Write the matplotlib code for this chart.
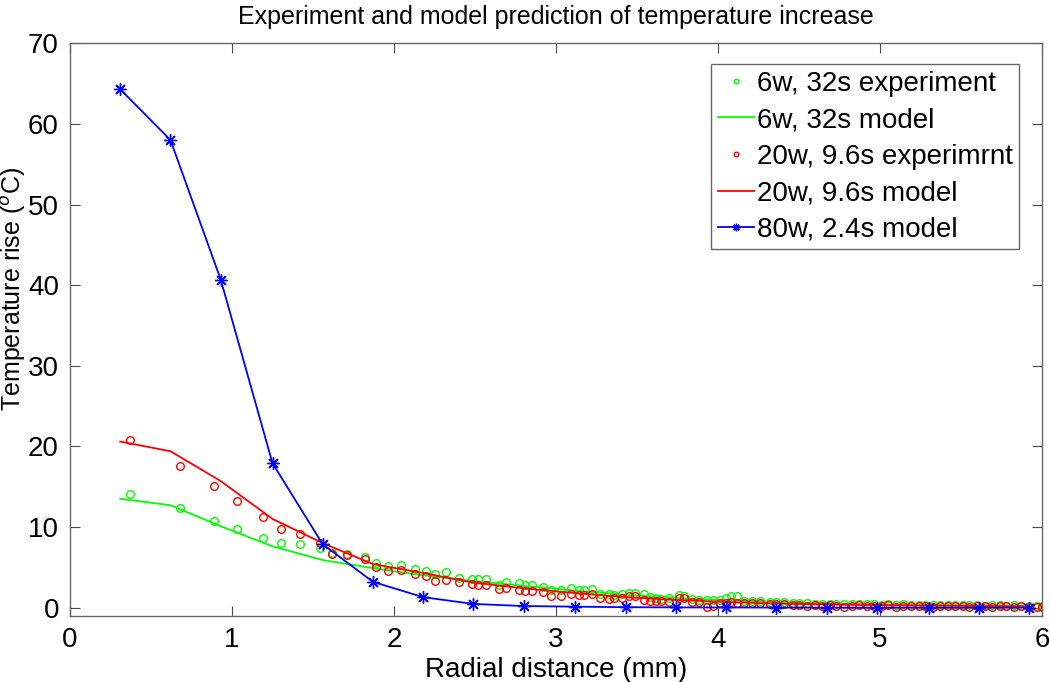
import matplotlib
matplotlib.use("Agg")
import matplotlib.pyplot as plt

plt.rcParams['font.family'] = ['Liberation Sans', 'DejaVu Sans']
plt.rcParams['mathtext.fontset'] = 'custom'
plt.rcParams['mathtext.rm'] = 'Liberation Sans'

# model grid
model_x = [0.31, 0.62, 0.93, 1.25, 1.56, 1.87, 2.18, 2.49, 2.80, 3.12,
           3.43, 3.74, 4.05, 4.36, 4.67, 4.98, 5.30, 5.61, 5.92]
model_6w = [13.5, 12.7, 10.1, 7.6, 5.9, 4.9, 4.0, 3.3, 2.7, 2.1,
            1.6, 1.2, 0.9, 0.7, 0.5, 0.4, 0.35, 0.3, 0.25]
model_20w = [20.6, 19.4, 15.7, 11.0, 8.0, 5.4, 4.3, 3.1, 2.4, 1.8,
             1.3, 0.95, 0.7, 0.5, 0.4, 0.3, 0.25, 0.2, 0.15]
model_80w = [64.3, 58.0, 40.7, 17.9, 7.86, 3.2, 1.3, 0.46, 0.2, 0.12,
             0.06, 0.03, 0.02, 0.01, 0.0, 0.0, 0.0, 0.0, 0.0]

# experiment
exp_x = [0.37, 0.68, 0.89, 1.03, 1.19, 1.30, 1.42, 1.54, 1.62, 1.71,
         1.82, 1.89, 1.96, 2.04, 2.13, 2.20, 2.25, 2.32,
         2.40, 2.48, 2.52, 2.57, 2.65, 2.69, 2.77, 2.81, 2.85, 2.92,
         2.97, 3.03, 3.09, 3.14, 3.17, 3.22, 3.27, 3.33, 3.36, 3.41,
         3.45, 3.49, 3.54, 3.58, 3.62, 3.65, 3.70, 3.76, 3.79, 3.84,
         3.88, 3.93, 3.97, 4.01, 4.05, 4.08, 4.12, 4.16, 4.21, 4.26,
         4.32, 4.36,
         4.41, 4.46, 4.50, 4.55, 4.60, 4.64, 4.69, 4.73, 4.78, 4.83,
         4.87, 4.92, 4.96, 5.01, 5.05, 5.10, 5.14, 5.19, 5.24, 5.28,
         5.33, 5.37, 5.42, 5.46, 5.51, 5.55, 5.60, 5.65, 5.69, 5.74,
         5.78, 5.83, 5.87, 5.92, 5.97, 6.00]
exp_6w = [14.1, 12.3, 10.7, 9.8, 8.6, 8.0, 7.9, 7.4, 6.8, 6.7,
          6.3, 5.6, 5.2, 5.3, 4.8, 4.5, 4.2, 4.4,
          3.65, 3.55, 3.55, 3.55, 2.8, 3.15, 3.0, 2.8, 2.8, 2.6,
          2.2, 2.2, 2.4, 2.2, 2.2, 2.3, 1.65, 1.7, 1.6, 1.7,
          1.85, 1.85, 1.7, 1.3, 1.15, 1.1, 1.15, 1.55, 1.5, 1.1,
          0.95, 0.95, 0.9, 0.9, 1.2, 1.45, 1.4, 0.85, 0.85, 0.8,
          0.75, 0.7,
          0.65, 0.6, 0.6, 0.55, 0.5, 0.5, 0.45, 0.5, 0.45, 0.4,
          0.45, 0.4, 0.4, 0.35, 0.4, 0.35, 0.4, 0.35, 0.3, 0.35,
          0.3, 0.35, 0.3, 0.3, 0.35, 0.3, 0.3, 0.25, 0.3, 0.3,
          0.25, 0.3, 0.25, 0.25, 0.2, 0.2]
exp_20w = [20.8, 17.6, 15.1, 13.2, 11.2, 9.7, 9.1, 8.0, 6.7, 6.5,
           6.0, 5.1, 4.6, 4.7, 4.2, 3.9, 3.3, 3.4,
           3.15, 2.9, 2.8, 2.75, 2.3, 2.4, 2.2, 2.05, 2.05, 1.9,
           1.5, 1.5, 1.65, 1.6, 1.6, 1.65, 1.25, 1.1, 1.2, 1.25,
           1.45, 1.4, 0.95, 0.8, 0.85, 0.8, 0.75, 1.15, 1.2, 0.75,
           0.75, 0.1, 0.2, 0.6, 0.6, 0.65, 0.6, 0.6, 0.6, 0.6,
           0.5, 0.4,
           0.4, 0.3, 0.35, 0.2, 0.3, 0.15, 0.3, 0.2, 0.1, 0.25,
           0.3, 0.2, 0.15, 0.25, 0.3, 0.1, 0.2, 0.25, 0.15, 0.2,
           0.1, 0.25, 0.2, 0.15, 0.2, 0.1, 0.2, 0.15, 0.1, 0.2,
           0.15, 0.1, 0.15, 0.1, 0.1, 0.1]

x_ticks = [0, 1, 2, 3, 4, 5, 6]
y_ticks = [0, 10, 20, 30, 40, 50, 60, 70]

fig = plt.figure(figsize=(10.5, 6.82), dpi=100)
ax = fig.add_axes([0.0667, 0.0972, 0.9257, 0.8393])

green = (0.0, 1.0, 0.0)
red = (1.0, 0.0, 0.0)
blue = (0.0, 0.0, 1.0)

ax.plot(exp_x, exp_6w, linestyle='none', marker='o', markersize=5.5,
        markerfacecolor='none', markeredgecolor=green, markeredgewidth=1.0,
        label='6w, 32s experiment')
ax.plot(model_x, model_6w, color=green, linewidth=1.3, label='6w, 32s model')
ax.plot(exp_x, exp_20w, linestyle='none', marker='o', markersize=5.5,
        markerfacecolor='none', markeredgecolor=red, markeredgewidth=1.0,
        label='20w, 9.6s experimrnt')
ax.plot(model_x, model_20w, color=red, linewidth=1.3, label='20w, 9.6s model')
ax.plot(model_x, model_80w, color=blue, linewidth=1.3, marker=(8, 2, 0),
        markersize=9, markeredgewidth=1.0, label='80w, 2.4s model')

ax.set_xlim(0, 6)
ax.set_ylim(-1, 70)
ax.set_xticks(x_ticks)
ax.set_yticks(y_ticks)
ax.tick_params(direction='in', length=7, width=0.8, top=True, right=True,
               labelsize=20, colors=(0.3, 0.3, 0.3), labelcolor='black', pad=8)
for s in ax.spines.values():
    s.set_color((0.4, 0.4, 0.4))
    s.set_linewidth(1.0)

ax.set_xlabel('Radial distance (mm)', fontsize=20, labelpad=3)
ax.set_ylabel('Temperature rise ($^{o}$C)', fontsize=18)
ax.yaxis.set_label_coords(-0.043, 0.571)
ax.set_title('Experiment and model prediction of temperature increase',
             fontsize=18, pad=14)

leg = ax.legend(loc='upper right', bbox_to_anchor=(0.9763, 0.9630),
                fontsize=20, handlelength=1.3, handletextpad=0.12,
                borderpad=0.22, labelspacing=0.38, borderaxespad=0,
                fancybox=False, framealpha=1, markerscale=0.6)
leg.get_frame().set_edgecolor((0.4, 0.4, 0.4))
leg.get_frame().set_linewidth(1.0)

fig.savefig('out.png', dpi=100)
